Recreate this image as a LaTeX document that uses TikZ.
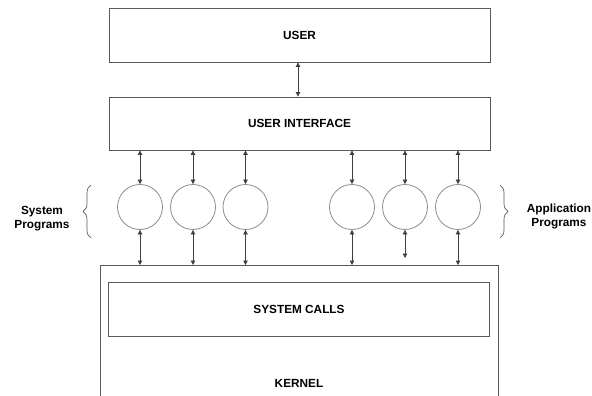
\documentclass[tikz,border=0pt]{standalone}
\usepackage{fontspec}
\setmainfont{Liberation Sans}
\usetikzlibrary{
	arrows.meta,
	calc,
	positioning,
	decorations.pathreplacing
}

\begin{document}
\begin{tikzpicture}[x=1pt,y=-1pt,
		box/.style={draw=black!65,line width=0.8pt,minimum width=381pt,minimum height=54pt,inner sep=0pt,font=\bfseries\fontsize{11.8}{13}\selectfont},
		prog/.style={circle,draw=black!45,line width=0.8pt,minimum size=45pt,inner sep=0pt},
		link/.style={{Triangle[length=4.5pt,width=4.5pt]}-{Triangle[length=4.5pt,width=4.5pt]},draw=black!75,line width=0.7pt},
		lbl/.style={font=\bfseries\fontsize{11.8}{14}\selectfont,align=center,inner sep=0pt}]
		\clip (0,0) rectangle (592,396);
		\node[box] (user) at (299.5,35) {USER};
		\node[box,minimum height=53pt] (ui) at (299.5,123.5) {USER INTERFACE};
		\node[draw=black!65,line width=0.8pt,minimum width=398pt,minimum height=160pt,anchor=north] (kernel) at (299,265) {};
		\node[box] (calls) at (299,309) {SYSTEM CALLS};
		\node[lbl] (kname) at (299,383) {KERNEL};
		\draw[link] (user.south -| 298,0) -- (ui.north -| 298,0);
		\foreach \i/\x in {1/140,2/193,3/245.5,4/352,5/405,6/458}{
			\node[prog] (p\i) at (\x,207) {};
			\draw[link] (p\i |- ui.south) -- (p\i.north);
		}
		\foreach \i in {1,2,3,4,6}{
			\draw[link] (p\i.south) -- (p\i |- kernel.north);
		}
		\coordinate (k5) at (405,258);
		\draw[link] (p5.south) -- (k5);
		\draw[black!65,line width=0.7pt,decorate,decoration={brace,amplitude=8pt}] (91,238) -- (91,185);
		\draw[black!65,line width=0.7pt,decorate,decoration={brace,amplitude=8pt}] (500,185) -- (500,238);
		\node[lbl] (sys) at (42,219) {System\\Programs};
		\node[lbl] (app) at (559,216) {Application\\Programs};
	\end{tikzpicture}
\end{document}
